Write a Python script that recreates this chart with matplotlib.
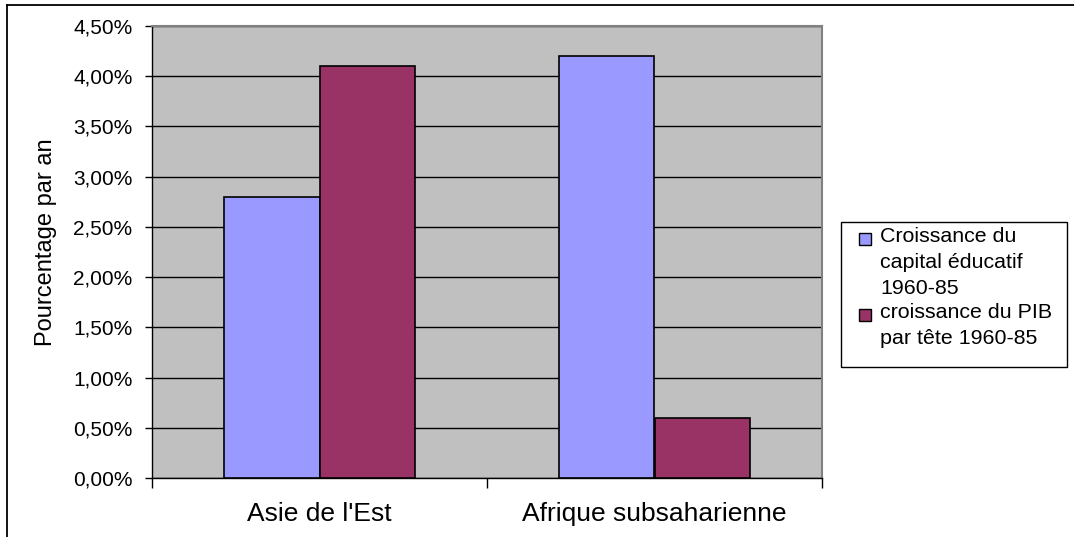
import matplotlib
matplotlib.use("Agg")
import matplotlib.pyplot as plt
from matplotlib.patches import Rectangle
from matplotlib.lines import Line2D
from matplotlib.ticker import FixedLocator, FuncFormatter
import numpy as np

plt.rcParams['font.family'] = ['Liberation Sans', 'DejaVu Sans']

categories = ["Asie de l'Est", "Afrique subsaharienne"]
series_names = ["Croissance du\ncapital éducatif\n1960-85", "croissance du PIB\npar tête 1960-85"]
capital_educatif = [2.8, 4.2]
pib_par_tete = [4.1, 0.6]
series_values = [capital_educatif, pib_par_tete]
series_colors = ["#9999FF", "#993366"]
y_ticks = [0.0, 0.5, 1.0, 1.5, 2.0, 2.5, 3.0, 3.5, 4.0, 4.5]
y_label = "Pourcentage par an"

W, H = 1074, 537
fig = plt.figure(figsize=(W / 100, H / 100), dpi=100)
ax = fig.add_axes([152 / W, 1 - 478 / H, (822 - 152) / W, (478 - 26) / H])
ax.set_facecolor("#C0C0C0")

x = np.arange(len(categories))
bw = 0.286
for i, (vals, col) in enumerate(zip(series_values, series_colors)):
    ax.bar(x + (i - 0.5) * bw, vals, width=bw, color=col, edgecolor="black",
           linewidth=1.2, zorder=3)

ax.set_xlim(-0.5, len(categories) - 0.5)
ax.set_ylim(0, 4.5)
ax.yaxis.set_major_locator(FixedLocator(y_ticks))
ax.yaxis.set_major_formatter(FuncFormatter(lambda v, p: f"{v:.2f}%".replace(".", ",")))
ax.grid(axis="y", color="black", linewidth=1.0, zorder=1)
ax.set_axisbelow(True)

ax.set_xticks(x)
ax.set_xticklabels(categories, fontsize=19)
ax.set_xticks(np.arange(len(categories) + 1) - 0.5, minor=True)
ax.tick_params(axis="x", which="major", length=0, pad=17)
ax.tick_params(axis="x", which="minor", length=7, width=1, color="black", direction="out")
ax.tick_params(axis="y", length=5, width=1, color="black", direction="out", pad=9, labelsize=15)

for s in ["top", "right"]:
    ax.spines[s].set_color("#808080")
    ax.spines[s].set_linewidth(1.5)
for s in ["left", "bottom"]:
    ax.spines[s].set_color("black")
    ax.spines[s].set_linewidth(1.0)

fig.text(46 / W, 1 - 242 / H, y_label, rotation=90, fontsize=17,
         ha="center", va="center")

# figure border (top and left)
fig.add_artist(Line2D([7 / W, 1.0], [1 - 5 / H, 1 - 5 / H], color="black", linewidth=1.3,
                      transform=fig.transFigure))
fig.add_artist(Line2D([7 / W, 7 / W], [0, 1 - 5 / H], color="black", linewidth=1.3,
                      transform=fig.transFigure))

# legend
fig.add_artist(Rectangle((841 / W, 1 - 367 / H), (1067 - 841) / W, (367 - 222) / H,
                         transform=fig.transFigure, facecolor="white",
                         edgecolor="black", linewidth=1.0))
entry_tops = [227, 303]
square_tops = [233, 309]
for name, col, top, stop in zip(series_names, series_colors, entry_tops, square_tops):
    sq = 12
    fig.add_artist(Rectangle((859 / W, 1 - (stop + sq) / H), sq / W, sq / H,
                             transform=fig.transFigure, facecolor=col,
                             edgecolor="black", linewidth=1.0))
    fig.text(880 / W, 1 - top / H, name, fontsize=15.4, ha="left", va="top",
             linespacing=1.48)

fig.savefig("out.png", dpi=100)
